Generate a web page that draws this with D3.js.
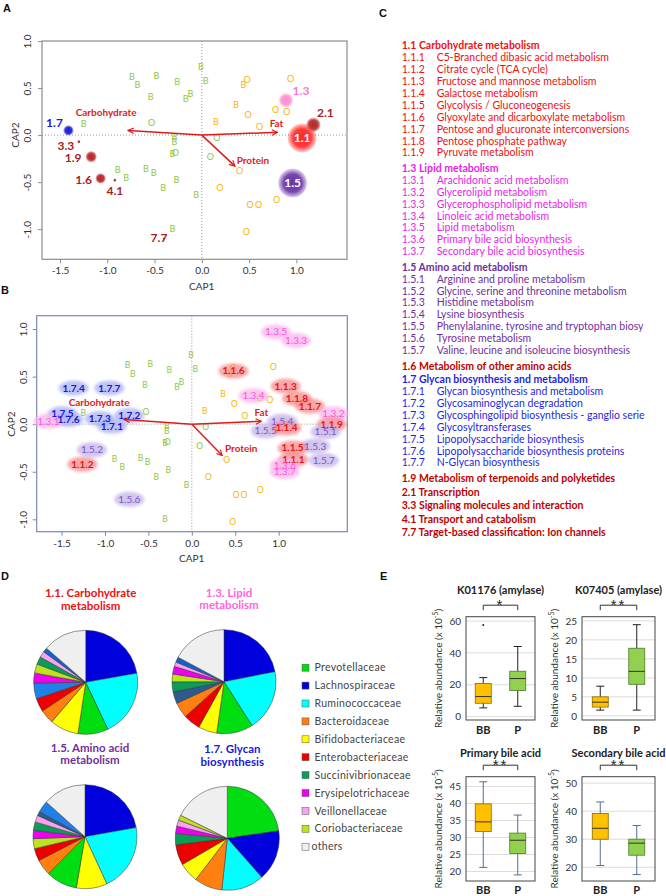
<!DOCTYPE html>
<html>
<head>
<meta charset="utf-8">
<script src="https://cdn.jsdelivr.net/npm/d3@7"></script>
<style>
  body { margin: 0; background: #fff; }
  svg { display: block; font-family: Lato, "Open Sans", sans-serif; }
</style>
</head>
<body>
<div id="wrapper"></div>
<script>
// ---- data ----
// sample scores on the CAP axes
const sampleCap1 = [-0.74, -0.48, -0.68, -0.26, -0.01, 0.04, -0.54, -0.17, -0.12, -1.25, -0.29, -0.29, -0.31, -0.89, -0.80, -0.59, -0.51, -0.27, -0.41, -0.06, -0.31,
    -0.53, -0.28, 0.16, 0.09,
    0.44, 0.36, 0.15,
    0.48, 0.94, 0.78, 0.90, 0.49, 0.61, 0.40, 0.19, 0.51, 0.60, 0.79, 0.47]
const sampleCap2 = [0.62, 0.63, 0.53, 0.57, 0.73, 0.58, 0.41, 0.39, 0.44, 0.12, -0.02, -0.07, -0.20, -0.37, -0.45, -0.36, -0.40, -0.48, -0.56, -0.64, -1.00,
    0.13, -0.19, -0.03, -0.23,
    0.53, 0.32, 0.14,
    0.59, 0.60, 0.27, 0.25, 0.21, 0.09, -0.38, -0.56, -0.74, -0.74, -0.69, -1.03]
const sampleLetter = ["B", "B", "B", "B", "B", "B", "B", "B", "B", "B", "B", "B", "B", "B", "B", "B", "B", "B", "B", "B", "B",
    "O", "O", "O", "O",
    "B", "B", "B",
    "O", "O", "O", "O", "O", "O", "O", "O", "O", "O", "O", "O"]
const sampleDiet = ["P", "P", "P", "P", "P", "P", "P", "P", "P", "P", "P", "P", "P", "P", "P", "P", "P", "P", "P", "P", "P",
    "P", "P", "P", "P",
    "BB", "BB", "BB",
    "BB", "BB", "BB", "BB", "BB", "BB", "BB", "BB", "BB", "BB", "BB", "BB"]

// nutrient vectors
const nutrientNames = ["Carbohydrate", "Fat", "Protein"]
const nutrientCap1 = [-0.78, 0.80, 0.35]
const nutrientCap2 = [0.05, 0.03, -0.33]

// panel A: level-2 pathways
const pathwayNames = ["1.7", "3.3", "1.9", "1.6", "4.1", "7.7", "1.3", "2.1", "1.1", "1.5"]
const pathwayCap1 = [-1.41, -1.30, -1.17, -1.07, -0.92, -0.40, 0.89, 1.18, 1.06, 0.96]
const pathwayCap2 = [0.05, -0.07, -0.23, -0.46, -0.48, -1.10, 0.37, 0.11, -0.03, -0.51]
const pathwayWeight = [13, 1.2, 15, 13, 1.2, 0.3, 25, 25, 100, 100]

// panel B: level-3 pathways
const subNames = ["1.3.5", "1.3.3", "1.1.6", "1.1.3", "1.1.8", "1.1.7", "1.3.4", "1.3.2", "1.1.9", "1.5.1", "1.5.4", "1.5.5", "1.1.4", "1.5.3", "1.1.5", "1.1.1", "1.5.7", "1.3.6", "1.3.7", "1.5.6",
    "1.7.4", "1.7.7", "1.7.5", "1.7.6", "1.3.1", "1.7.3", "1.7.1", "1.7.2", "1.5.2", "1.1.2"]
const subCap1 = [0.97, 1.20, 0.48, 1.08, 1.21, 1.36, 0.71, 1.63, 1.61, 1.54, 1.04, 0.85, 1.09, 1.42, 1.16, 1.17, 1.52, 1.07, 1.07, -0.72,
    -1.36, -0.95, -1.49, -1.42, -1.65, -1.06, -0.92, -0.72, -1.15, -1.26]
const subCap2 = [0.97, 0.88, 0.56, 0.40, 0.27, 0.19, 0.30, 0.11, 0.00, -0.08, 0.03, -0.07, -0.04, -0.23, -0.25, -0.37, -0.38, -0.43, -0.50, -0.79,
    0.38, 0.38, 0.11, 0.05, 0.03, 0.06, -0.02, 0.09, -0.27, -0.42]

// panel C: pathway list
const carbItems = ["C5-Branched dibasic acid metabolism", "Citrate cycle (TCA cycle)", "Fructose and mannose metabolism", "Galactose metabolism",
    "Glycolysis / Gluconeogenesis", "Glyoxylate and dicarboxylate metabolism", "Pentose and glucuronate interconversions",
    "Pentose phosphate pathway", "Pyruvate metabolism"]
const lipidItems = ["Arachidonic acid metabolism", "Glycerolipid metabolism", "Glycerophospholipid metabolism", "Linoleic acid metabolism",
    "Lipid metabolism", "Primary bile acid biosynthesis", "Secondary bile acid biosynthesis"]
const aminoItems = ["Arginine and proline metabolism", "Glycine, serine and threonine metabolism", "Histidine metabolism", "Lysine biosynthesis",
    "Phenylalanine, tyrosine and tryptophan biosy", "Tyrosine metabolism", "Valine, leucine and isoleucine biosynthesis"]
const glycanItems = ["Glycan biosynthesis and metabolism", "Glycosaminoglycan degradation", "Glycosphingolipid biosynthesis - ganglio serie",
    "Glycosyltransferases", "Lipopolysaccharide biosynthesis", "Lipopolysaccharide biosynthesis proteins", "N-Glycan biosynthesis"]
const groupCodes = ["1.1", "1.3", "1.5", "1.6", "1.7", "1.9", "2.1", "3.3", "4.1", "7.7"]
const groupTitles = ["Carbohydrate metabolism", "Lipid metabolism", "Amino acid metabolism", "Metabolism of other amino acids",
    "Glycan biosynthesis and metabolism", "Metabolism of terpenoids and polyketides", "Transcription",
    "Signaling molecules and interaction", "Transport and catabolism", "Target-based classification: Ion channels"]

// panel D: family shares (%)
const familyNames = ["Prevotellaceae", "Lachnospiraceae", "Ruminococcaceae", "Bacteroidaceae", "Bifidobacteriaceae",
    "Enterobacteriaceae", "Succinivibrionaceae", "Erysipelotrichaceae", "Veillonellaceae", "Coriobacteriaceae", "others"]
const pieTitles = [["1.1. Carbohydrate", "metabolism"], ["1.3. Lipid", "metabolism"], ["1.5. Amino acid", "metabolism"], ["1.7. Glycan", "biosynthesis"]]
const carbFamilies = ["Lachnospiraceae", "Ruminococcaceae", "Prevotellaceae", "Bifidobacteriaceae", "Bacteroidaceae", "Enterobacteriaceae",
    "unlisted1", "Erysipelotrichaceae", "Coriobacteriaceae", "Succinivibrionaceae", "Veillonellaceae", "unlisted3", "others"]
const carbShares = [22.2, 20.8, 9.4, 8.9, 4.4, 4.2, 4.9, 3.1, 2.8, 2.4, 1.9, 1.4, 13.6]
const lipidFamilies = ["Lachnospiraceae", "Ruminococcaceae", "Prevotellaceae", "Bifidobacteriaceae", "Enterobacteriaceae", "Bacteroidaceae",
    "unlisted2", "Succinivibrionaceae", "Coriobacteriaceae", "Erysipelotrichaceae", "Veillonellaceae", "unlisted3", "others"]
const lipidShares = [21.9, 19.0, 11.3, 5.8, 5.3, 4.8, 3.7, 3.1, 2.4, 2.4, 1.4, 1.6, 17.2]
const aminoFamilies = ["Lachnospiraceae", "Ruminococcaceae", "Bifidobacteriaceae", "Prevotellaceae", "Bacteroidaceae", "Enterobacteriaceae",
    "Coriobacteriaceae", "Erysipelotrichaceae", "Succinivibrionaceae", "Veillonellaceae", "unlisted2", "unlisted1", "others"]
const aminoShares = [22.2, 20.9, 9.6, 9.7, 5.0, 3.9, 3.1, 2.6, 2.6, 2.1, 1.3, 3.6, 13.4]
const glycanFamilies = ["Prevotellaceae", "Lachnospiraceae", "Ruminococcaceae", "Bacteroidaceae", "Bifidobacteriaceae", "Enterobacteriaceae",
    "Succinivibrionaceae", "Erysipelotrichaceae", "Veillonellaceae", "Coriobacteriaceae", "others"]
const glycanShares = [22.7, 15.8, 13.2, 8.7, 6.2, 6.4, 3.5, 2.3, 1.9, 1.6, 17.7]

// panel E: box plot stats [min, q1, median, q3, max]
const boxTitles = ["K01176 (amylase)", "K07405 (amylase)", "Primary bile acid", "Secondary bile acid"]
const boxSignif = ["*", "**", "**", "**"]
const boxGroups = ["BB", "P"]
const bbStats = [[5.5, 8.4, 12.6, 20.8, 24.5], [1.5, 2.3, 3.6, 5.0, 7.8], [21.2, 31.8, 34.6, 39.9, 46.4], [20.6, 30.0, 33.9, 39.2, 43.3]]
const pStats = [[6.5, 16.4, 23.9, 28.5, 44.0], [1.5, 8.3, 11.7, 17.8, 24.0], [19.0, 25.3, 29.2, 31.3, 36.6], [17.4, 24.3, 28.6, 30.0, 34.9]]
const bbOutliers = [[57.5], [], [], []]
const boxTicks = [[0, 20, 40, 60], [0, 5, 10, 15, 20, 25], [20, 25, 30, 35, 40, 45], [20, 30, 40, 50]]

// ---- drawing ----
function drawFigure() {
    const wrapper = d3.select("#wrapper")
        .append("svg")
        .attr("width", 666)
        .attr("height", 896)
    wrapper.append("rect").attr("width", 666).attr("height", 896).attr("fill", "#fff")

    const defs = wrapper.append("defs")
    defs.append("marker")
        .attr("id", "arrowhead")
        .attr("viewBox", "0 0 10 10")
        .attr("refX", 9).attr("refY", 5)
        .attr("markerWidth", 7).attr("markerHeight", 7)
        .attr("markerUnits", "userSpaceOnUse")
        .attr("orient", "auto")
        .append("path")
        .attr("d", "M1,1 L9,5 L1,9")
        .attr("fill", "none")
        .attr("stroke", "#e01b1b")
        .attr("stroke-width", 1.6)
    defs.append("filter")
        .attr("id", "soft")
        .attr("x", "-30%").attr("y", "-50%").attr("width", "160%").attr("height", "200%")
        .append("feGaussianBlur").attr("stdDeviation", 1.4)

    const bubbleColors = {
        "1.7": "#1c1cd8", "3.3": "#b3262b", "1.9": "#b8262b", "1.6": "#b8262b", "4.1": "#b3262b", "7.7": "#b3262b",
        "1.3": "#ff8fd2", "2.1": "#b32a2a", "1.1": "#ff2a2a", "1.5": "#6c36a6"
    }
    Object.entries(bubbleColors).forEach(([k, c]) => {
        const grad = defs.append("radialGradient").attr("id", "bub" + k.replace(".", "_"))
        grad.append("stop").attr("offset", "0%").attr("stop-color", c).attr("stop-opacity", 1)
        grad.append("stop").attr("offset", "62%").attr("stop-color", c).attr("stop-opacity", 0.92)
        grad.append("stop").attr("offset", "100%").attr("stop-color", c).attr("stop-opacity", 0.2)
    })

    const panelLetter = (t, x, y) => wrapper.append("text")
        .attr("x", x).attr("y", y).text(t)
        .attr("font-family", "'Liberation Sans', Arial, sans-serif")
        .attr("font-weight", "bold").attr("font-size", 11).attr("fill", "#111")

    const samples = sampleCap1.map((d, i) => ({
        cap1: d, cap2: sampleCap2[i], letter: sampleLetter[i], diet: sampleDiet[i]
    }))
    const nutrients = nutrientNames.map((d, i) => ({ name: d, cap1: nutrientCap1[i], cap2: nutrientCap2[i] }))
    const capTicksX = [-1.5, -1, -0.5, 0, 0.5, 1]
    const capTicksY = [-1, -0.5, 0, 0.5, 1]
    const dietColor = { P: "#8dc63f", BB: "#f7b500" }

    function drawCapFrame(xScale, yScale, frameColor, yTickX, capLabelY, capLabelX) {
        const [x0, x1] = xScale.range()
        const [y0, y1] = yScale.range()
        const g = wrapper.append("g")
        g.append("line")
            .attr("x1", xScale(0)).attr("x2", xScale(0)).attr("y1", y1).attr("y2", y0)
            .attr("stroke", "#999").attr("stroke-dasharray", "1,2")
        g.append("line")
            .attr("x1", x0).attr("x2", x1).attr("y1", yScale(0)).attr("y2", yScale(0))
            .attr("stroke", "#999").attr("stroke-dasharray", "1,2")
        g.append("rect")
            .attr("x", x0).attr("y", y1).attr("width", x1 - x0).attr("height", y0 - y1)
            .attr("fill", "none").attr("stroke", frameColor).attr("stroke-width", 1.2)

        const xAxis = g.append("g")
            .attr("transform", `translate(0,${y0})`)
            .call(d3.axisBottom(xScale).tickValues(capTicksX).tickSize(4).tickPadding(4).tickFormat(d => d.toFixed(1)))
        const yAxis = g.append("g")
            .attr("transform", `translate(${x0},0)`)
            .call(d3.axisLeft(yScale).tickValues(capTicksY).tickSize(4).tickFormat(d => d.toFixed(1)))
        ;[xAxis, yAxis].forEach(ax => {
            ax.select(".domain").remove()
            ax.selectAll("line").attr("stroke", frameColor)
            ax.selectAll("text").attr("font-family", "Lato, sans-serif").attr("font-size", 10).attr("fill", "#333")
        })
        yAxis.selectAll("text")
            .attr("x", null).attr("dy", null)
            .attr("text-anchor", "middle")
            .attr("transform", d => `translate(${yTickX - x0},0) rotate(-90)`)
            .attr("y", 0)
            .attr("dy", "0.35em")

        g.append("text")
            .attr("x", capLabelX).attr("y", capLabelY)
            .attr("text-anchor", "middle").attr("font-size", 10).attr("fill", "#333")
            .text("CAP1")
        g.append("text")
            .attr("transform", `translate(${yTickX - 12},${yScale(0)}) rotate(-90)`)
            .attr("text-anchor", "middle").attr("dy", "0.35em").attr("font-size", 10).attr("fill", "#333")
            .text("CAP2")
        return g
    }

    function drawSamples(g, xScale, yScale, size) {
        g.append("g").selectAll("text")
            .data(samples)
            .enter().append("text")
            .attr("x", d => xScale(d.cap1))
            .attr("y", d => yScale(d.cap2))
            .attr("dy", "0.35em")
            .attr("text-anchor", "middle")
            .attr("font-size", size)
            .attr("fill", d => dietColor[d.diet])
            .text(d => d.letter)
    }

    function drawNutrients(g, xScale, yScale, labelOffsets) {
        g.append("g").selectAll("line")
            .data(nutrients)
            .enter().append("line")
            .attr("x1", xScale(0)).attr("y1", yScale(0))
            .attr("x2", d => xScale(d.cap1)).attr("y2", d => yScale(d.cap2))
            .attr("stroke", "#e01b1b").attr("stroke-width", 1.5)
            .attr("marker-end", "url(#arrowhead)")
        g.append("g").selectAll("text")
            .data(nutrients)
            .enter().append("text")
            .attr("x", d => xScale(d.cap1) + labelOffsets[d.name][0])
            .attr("y", d => yScale(d.cap2) + labelOffsets[d.name][1])
            .attr("dy", "0.35em")
            .attr("text-anchor", "middle")
            .attr("font-size", 10).attr("font-weight", "bold")
            .attr("fill", "#e01b1b")
            .text(d => d.name)
    }

    // ---------- panel A ----------
    panelLetter("A", 3, 12)
    const xScaleA = d3.scaleLinear().domain([-1.69, 1.535]).range([42, 347])
    const yScaleA = d3.scaleLinear().domain([-1.32, 1.0]).range([259.3, 41])
    const gA = drawCapFrame(xScaleA, yScaleA, "#8c8c8c", 27, 290, 201.7)
    drawSamples(gA, xScaleA, yScaleA, 9)

    const pathways = pathwayNames.map((d, i) => ({
        name: d, cap1: pathwayCap1[i], cap2: pathwayCap2[i], weight: pathwayWeight[i]
    }))
    const rScale = d3.scaleSqrt().domain([0, d3.max(pathwayWeight)]).range([0, 14.5])
    gA.append("g").selectAll("circle")
        .data(pathways)
        .enter().append("circle")
        .attr("cx", d => xScaleA(d.cap1))
        .attr("cy", d => yScaleA(d.cap2))
        .attr("r", d => Math.max(rScale(d.weight), 1.3))
        .attr("fill", d => `url(#bub${d.name.replace(".", "_")})`)
    drawNutrients(gA, xScaleA, yScaleA, { Carbohydrate: [-22, -18], Fat: [-1, -9], Protein: [18, -6] })

    const pathwayLabel = {
        "1.7": [-14, -8, "#1c1cd8"], "3.3": [-13, 4, "#a81d22"], "1.9": [-18, 1.5, "#a81d22"], "1.6": [-17, 1, "#a81d22"],
        "4.1": [0, 11, "#a81d22"], "7.7": [-5, -1, "#a81d22"], "1.3": [15, -9, "#ff77cc"], "2.1": [12, -12, "#a81d22"],
        "1.1": [0, 0, "#fff"], "1.5": [0, 0, "#fff"]
    }
    gA.append("g").selectAll("text")
        .data(pathways)
        .enter().append("text")
        .attr("x", d => xScaleA(d.cap1) + pathwayLabel[d.name][0])
        .attr("y", d => yScaleA(d.cap2) + pathwayLabel[d.name][1])
        .attr("dy", "0.35em")
        .attr("text-anchor", "middle")
        .attr("font-size", 12).attr("font-weight", "bold")
        .attr("fill", d => pathwayLabel[d.name][2])
        .text(d => d.name)

    // ---------- panel B ----------
    panelLetter("B", 1, 294)
    const xScaleB = d3.scaleLinear().domain([-1.786, 1.79]).range([36.7, 347.3])
    const yScaleB = d3.scaleLinear().domain([-1.13, 1.14]).range([531.7, 315.7])
    const gB = drawCapFrame(xScaleB, yScaleB, "#7d88b0", 23, 562, 191.7)
    drawSamples(gB, xScaleB, yScaleB, 8.5)

    const subStyle = {
        "1.1": { text: "#e8141c", fill: "#f58a8a", weight: "bold" },
        "1.3": { text: "#ff55dd", fill: "#f9b4ec", weight: "normal" },
        "1.5": { text: "#7d55c8", fill: "#c4b2ea", weight: "normal" },
        "1.7": { text: "#1616d4", fill: "#a9b0f2", weight: "bold" }
    }
    const subs = subNames.map((d, i) => ({ name: d, group: d.slice(0, 3), cap1: subCap1[i], cap2: subCap2[i] }))
    gB.append("g").selectAll("ellipse")
        .data(subs)
        .enter().append("ellipse")
        .attr("cx", d => xScaleB(d.cap1))
        .attr("cy", d => yScaleB(d.cap2))
        .attr("rx", 15).attr("ry", 7.5)
        .attr("fill", d => subStyle[d.group].fill)
        .attr("opacity", 0.75)
        .attr("filter", "url(#soft)")
    drawNutrients(gB, xScaleB, yScaleB, { Carbohydrate: [-25, -17], Fat: [0, -9], Protein: [19, -7] })
    gB.append("g").selectAll("text")
        .data(subs)
        .enter().append("text")
        .attr("x", d => xScaleB(d.cap1))
        .attr("y", d => yScaleB(d.cap2))
        .attr("dy", "0.35em")
        .attr("text-anchor", "middle")
        .attr("font-size", 10)
        .attr("font-weight", d => subStyle[d.group].weight)
        .attr("fill", d => subStyle[d.group].text)
        .text(d => d.name)

    // ---------- panel C ----------
    panelLetter("C", 379, 17)
    const groupColor = ["#ee1111", "#e81ee8", "#7030a0", "#c00000", "#1f1fe0", "#c00000", "#c00000", "#c00000", "#c00000", "#c00000"]
    const groupItems = [carbItems, lipidItems, aminoItems, [], glycanItems, [], [], [], [], []]
    const gC = wrapper.append("g").attr("font-size", 10.5)
    let yC = 45.7
    let prevHadItems = false
    groupCodes.forEach((code, gi) => {
        if (gi > 0) yC += prevHadItems ? 15.5 : 13.6
        gC.append("text")
            .attr("x", 401.7).attr("y", yC).attr("dy", "0.35em")
            .attr("font-weight", "bold").attr("fill", groupColor[gi])
            .text(`${code} ${groupTitles[gi]}`)
        groupItems[gi].forEach((item, ii) => {
            yC += 11.9
            gC.append("text")
                .attr("x", 401.7).attr("y", yC).attr("dy", "0.35em")
                .attr("fill", groupColor[gi]).text(`${code}.${ii + 1}`)
            gC.append("text")
                .attr("x", 436.7).attr("y", yC).attr("dy", "0.35em")
                .attr("fill", groupColor[gi]).text(item)
        })
        prevHadItems = groupItems[gi].length > 0
    })

    // ---------- panel D ----------
    panelLetter("D", 1, 580)
    const familyColor = d3.scaleOrdinal()
        .domain(familyNames.concat(["unlisted1", "unlisted2", "unlisted3"]))
        .range(["#00dd10", "#0000dd", "#00ffff", "#ff8010", "#ffff00", "#ee0000", "#0a9e55", "#f000f0", "#f9a2f0", "#bde31e", "#efefef",
            "#1f80e8", "#2d5b8e", "#1560d0"])
    const pieSets = [[carbFamilies, carbShares], [lipidFamilies, lipidShares], [aminoFamilies, aminoShares], [glycanFamilies, glycanShares]]
    const pieCenters = [[85.7, 682.3], [224, 681.7], [85, 836.7], [227.3, 838.3]]
    const pieTitleColor = ["#ee1111", "#ff66dd", "#7030a0", "#1a1adb"]
    const pieGen = d3.pie().sort(null).value(d => d.share)
    const arcGen = d3.arc().innerRadius(0).outerRadius(52)
    pieSets.forEach(([fams, shares], pi) => {
        const [cx, cy] = pieCenters[pi]
        const slices = fams.map((f, i) => ({ family: f, share: shares[i] }))
        const gP = wrapper.append("g").attr("transform", `translate(${cx},${cy})`)
        gP.selectAll("path")
            .data(pieGen(slices))
            .enter().append("path")
            .attr("d", arcGen)
            .attr("fill", d => familyColor(d.data.family))
            .attr("stroke", "#333").attr("stroke-width", 0.5)
        wrapper.append("text")
            .attr("x", cx + 5).attr("y", cy - 85).attr("text-anchor", "middle")
            .attr("font-size", 11.5).attr("font-weight", "bold").attr("fill", pieTitleColor[pi])
            .selectAll("tspan").data(pieTitles[pi]).enter().append("tspan")
            .attr("x", cx + 5).attr("dy", (d, i) => i === 0 ? 0 : 12.6)
            .text(d => d)
    })

    const legend = wrapper.append("g").attr("transform", "translate(302,667.7)")
    const legendRows = legend.selectAll("g")
        .data(familyNames)
        .enter().append("g")
        .attr("transform", (d, i) => `translate(0,${i * 17.9})`)
    legendRows.append("rect")
        .attr("x", 0).attr("y", -3.5).attr("width", 7).attr("height", 7)
        .attr("fill", d => familyColor(d)).attr("stroke", "#555").attr("stroke-width", 0.5)
    legendRows.append("text")
        .attr("x", d => d === "others" ? 9.5 : 12.5).attr("dy", "0.35em")
        .attr("font-size", 10.5).attr("fill", "#444").attr("letter-spacing", 0.3)
        .text(d => d)

    // ---------- panel E ----------
    panelLetter("E", 380, 580)
    const boxFrames = [
        { x0: 466, x1: 535, y0: 616.7, y1: 720, domain: [-2.1, 62.7], titleY: 590, labelY: 734, whisker: "#222" },
        { x0: 582, x1: 655, y0: 616.7, y1: 720, domain: [-1.1, 26.1], titleY: 590, labelY: 734, whisker: "#222" },
        { x0: 466, x1: 535, y0: 776.7, y1: 881, domain: [17.2, 47.9], titleY: 753.3, labelY: 893.5, whisker: "#4f6f94" },
        { x0: 582, x1: 655, y0: 776.7, y1: 881, domain: [15.1, 52.3], titleY: 753.3, labelY: 893.5, whisker: "#4f6f94" }
    ]
    const boxFill = { BB: "#ffc000", P: "#92d050" }
    const boxStroke = { BB: "#8a6a00", P: "#4f7a2a" }
    boxFrames.forEach((f, bi) => {
        const g = wrapper.append("g")
        const yScale = d3.scaleLinear().domain(f.domain).range([f.y1, f.y0])
        const xScale = d3.scaleBand().domain(boxGroups).range([f.x0, f.x1]).paddingInner(0.5).paddingOuter(0.25)
        const bw = 16

        g.selectAll(".grid")
            .data(boxTicks[bi])
            .enter().append("line")
            .attr("x1", f.x0).attr("x2", f.x1)
            .attr("y1", d => yScale(d)).attr("y2", d => yScale(d))
            .attr("stroke", "#dcdcdc")
        const yAxis = g.append("g")
            .attr("transform", `translate(${f.x0},0)`)
            .call(d3.axisLeft(yScale).tickValues(boxTicks[bi]).tickSize(0).tickPadding(5))
        yAxis.select(".domain").remove()
        yAxis.selectAll("text").attr("font-family", "Lato, sans-serif").attr("font-size", 10).attr("fill", "#333")

        const stats = [bbStats[bi], pStats[bi]]
        boxGroups.forEach((grp, gi) => {
            const s = stats[gi]
            const cx = xScale(grp) + xScale.bandwidth() / 2
            g.append("line")
                .attr("x1", cx).attr("x2", cx).attr("y1", yScale(s[0])).attr("y2", yScale(s[4]))
                .attr("stroke", f.whisker).attr("stroke-width", 1)
            ;[s[0], s[4]].forEach(v => g.append("line")
                .attr("x1", cx - 4).attr("x2", cx + 4).attr("y1", yScale(v)).attr("y2", yScale(v))
                .attr("stroke", f.whisker).attr("stroke-width", 1))
            g.append("rect")
                .attr("x", cx - bw / 2).attr("width", bw)
                .attr("y", yScale(s[3])).attr("height", yScale(s[1]) - yScale(s[3]))
                .attr("fill", boxFill[grp]).attr("stroke", boxStroke[grp]).attr("stroke-width", 0.8)
            g.append("line")
                .attr("x1", cx - bw / 2).attr("x2", cx + bw / 2).attr("y1", yScale(s[2])).attr("y2", yScale(s[2]))
                .attr("stroke", "#333").attr("stroke-width", 1)
            g.append("text")
                .attr("x", cx).attr("y", f.labelY).attr("text-anchor", "middle")
                .attr("font-size", 11).attr("font-weight", "bold").attr("fill", "#222")
                .text(grp)
        })
        g.selectAll(".outlier")
            .data(bbOutliers[bi])
            .enter().append("circle")
            .attr("cx", xScale("BB") + xScale.bandwidth() / 2)
            .attr("cy", d => yScale(d)).attr("r", 1).attr("fill", "#222")

        g.append("rect")
            .attr("x", f.x0).attr("y", f.y0).attr("width", f.x1 - f.x0).attr("height", f.y1 - f.y0)
            .attr("fill", "none").attr("stroke", "#444").attr("stroke-width", 1)

        const cBB = xScale("BB") + xScale.bandwidth() / 2
        const cP = xScale("P") + xScale.bandwidth() / 2
        const bracketY = f.y0 - 11.5
        g.append("path")
            .attr("d", `M${cBB},${bracketY + 5} V${bracketY} H${cP} V${bracketY + 5}`)
            .attr("fill", "none").attr("stroke", "#333").attr("stroke-width", 1)
        g.append("text")
            .attr("x", (cBB + cP) / 2).attr("y", bracketY + 5)
            .attr("text-anchor", "middle").attr("font-size", 15).attr("fill", "#222")
            .attr("font-family", "'Liberation Sans', Arial, sans-serif")
            .attr("letter-spacing", 2)
            .text(boxSignif[bi])
        g.append("text")
            .attr("x", (f.x0 + f.x1) / 2).attr("y", f.titleY).attr("dy", "0.35em")
            .attr("text-anchor", "middle").attr("font-size", 11).attr("font-weight", "bold").attr("fill", "#222")
            .text(boxTitles[bi])

        const lab = g.append("text")
            .attr("transform", `translate(${f.x0 - 24},${(f.y0 + f.y1) / 2}) rotate(-90)`)
            .attr("text-anchor", "middle").attr("font-size", 10).attr("fill", "#333")
        lab.append("tspan").text("Relative abundance (x 10")
        lab.append("tspan").attr("dy", -4).attr("font-size", 7).text("-5")
        lab.append("tspan").attr("dy", 4).text(")")
    })
}

drawFigure()
</script>
</body>
</html>
